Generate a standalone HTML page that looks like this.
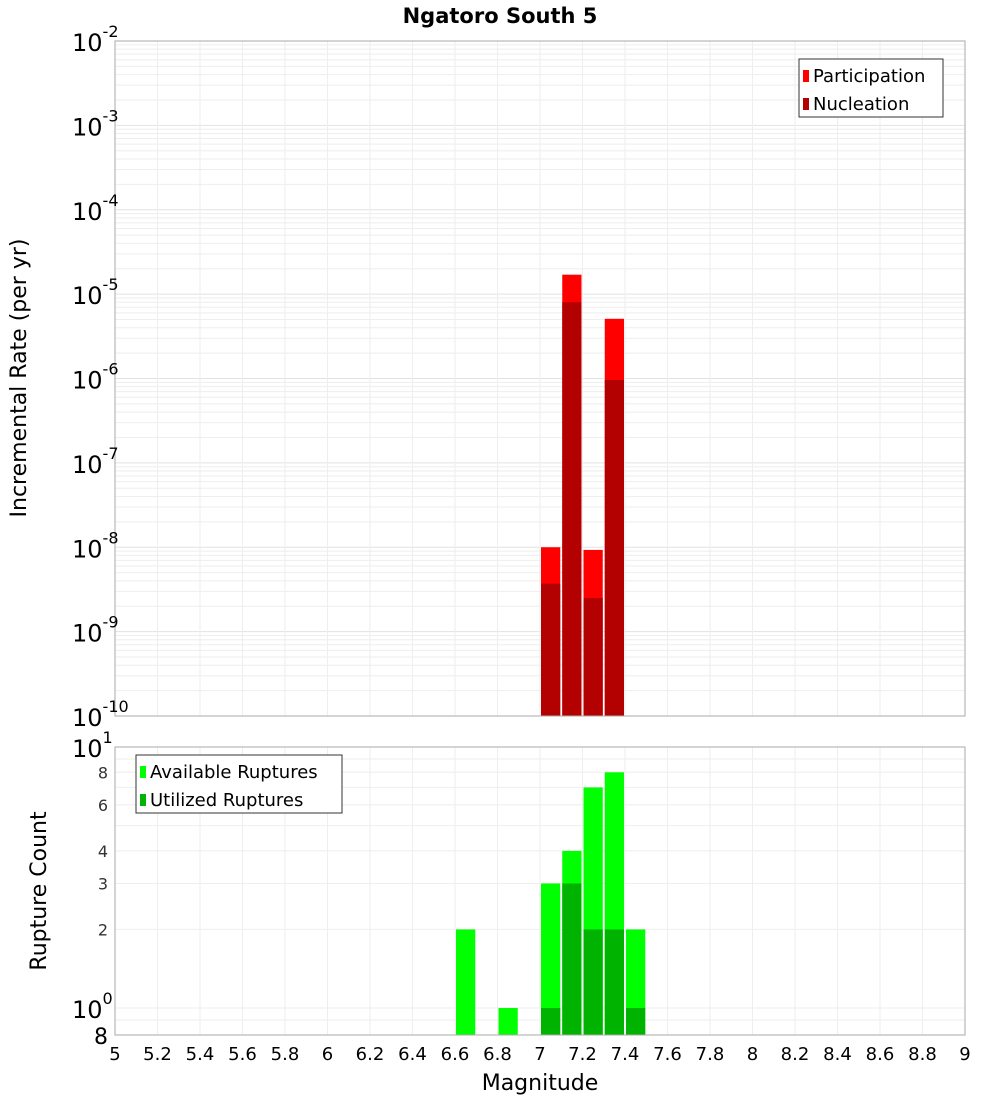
<!DOCTYPE html>
<html><head><meta charset="utf-8"><style>
body{margin:0;background:#fff;font-family:"Liberation Sans","DejaVu Sans",sans-serif}
svg text{font-family:"DejaVu Sans","Liberation Sans",sans-serif}
</style></head><body>
<svg id="c" width="1000" height="1100" xmlns="http://www.w3.org/2000/svg">
<text x="500" y="23" text-anchor="middle" font-size="21" font-weight="bold">Ngatoro South 5</text>
<g id="topg"></g><g id="botg"></g>
</svg>
<script>
const topMags=[7.05,7.15,7.25,7.35];
const participation=[1.0e-8,1.7e-5,9.3e-9,5.1e-6];
const nucleation=[3.7e-9,8.0e-6,2.5e-9,9.6e-7];
const botMags=[6.65,6.85,7.05,7.15,7.25,7.35,7.45];
const available=[2,1,3,4,7,8,2];
const utilized=[0,0,1,3,2,2,1];
const xTicks=[5,5.2,5.4,5.6,5.8,6,6.2,6.4,6.6,6.8,7,7.2,7.4,7.6,7.8,8,8.2,8.4,8.6,8.8,9];
const topExp=[-2,-3,-4,-5,-6,-7,-8,-9,-10];
const botTicks=[8,6,4,3,2];

const NS="http://www.w3.org/2000/svg";
function el(p,t,a){const e=document.createElementNS(NS,t);for(const k in a)e.setAttribute(k,a[k]);p.appendChild(e);return e;}
const L=115,R=965;
const xs=m=>L+(m-5)/4*(R-L);
const T0=41,T1=716; const yT=v=>T0+(-2-Math.log10(v))/8*(T1-T0);
const B0=747,B1=1035; const D=261; const yB=v=>B0+(1-Math.log10(v))*D;
const topG=document.getElementById('topg'),botG=document.getElementById('botg');

for(let e=-10;e<-2;e++)for(let k=1;k<10;k++){const y=yT(k*Math.pow(10,e));const g=el(topG,'line',{x1:L,x2:R,y1:y,y2:y,stroke:k==1?'#e2e2e2':'#eeeeee','stroke-width':1});
}
xTicks.forEach(t=>{const x=xs(t);const g=el(topG,'line',{x1:x,x2:x,y1:T0,y2:T1,stroke:'#eeeeee'});
const g2=el(botG,'line',{x1:x,x2:x,y1:B0,y2:B1,stroke:'#eeeeee'});});
for(let v=1;v<=10;v++){const y=yB(v);const g=el(botG,'line',{x1:L,x2:R,y1:y,y2:y,stroke:'#eeeeee'});}
{const y=yB(0.9);const g=el(botG,'line',{x1:L,x2:R,y1:y,y2:y,stroke:'#eeeeee'});}

const bw=(xs(0.1)-xs(0))-2;
topMags.forEach((m,i)=>{const x=xs(m)-bw/2;
let r=el(topG,'rect',{x:x,y:yT(participation[i]),width:bw,height:T1-yT(participation[i]),fill:'#ff0000'});
r=el(topG,'rect',{x:x,y:yT(nucleation[i]),width:bw,height:T1-yT(nucleation[i]),fill:'#b30000'});});
botMags.forEach((m,i)=>{const x=xs(m)-bw/2;
let r=el(botG,'rect',{x:x,y:yB(available[i]),width:bw,height:B1-yB(available[i]),fill:'#00ff00'});
if(utilized[i]>0){r=el(botG,'rect',{x:x,y:yB(utilized[i]),width:bw,height:B1-yB(utilized[i]),fill:'#00b300'});}});

let f=el(topG,'rect',{x:L,y:T0,width:R-L,height:T1-T0,fill:'none',stroke:'#aaaaaa'});
f=el(botG,'rect',{x:L,y:B0,width:R-L,height:B1-B0,fill:'none',stroke:'#aaaaaa'});

topExp.forEach(e=>{const y=yT(Math.pow(10,e));const t=el(topG,'text',{x:72,y:y+10,'font-size':24});
t.textContent='10';const s=el(t,'tspan',{dy:-14,'font-size':16});s.textContent=String(e);});
[[10,'1'],[1,'0']].forEach(([v,e])=>{const y=yB(v);const t=el(botG,'text',{x:72,y:y+10,'font-size':24});
t.textContent='10';const s=el(t,'tspan',{dy:-14,'font-size':16});s.textContent=e;});
botTicks.forEach(v=>{const t=el(botG,'text',{x:108,y:yB(v)+6,'font-size':16,'text-anchor':'end',fill:'#333'});t.textContent=String(v);});
{const t=el(botG,'text',{x:108,y:1044,'font-size':22,'text-anchor':'end'});t.textContent='8';}
xTicks.forEach(v=>{const t=el(botG,'text',{x:xs(v),y:1060,'font-size':18,'text-anchor':'middle'});t.textContent=String(v);});

let tt=el(botG,'text',{x:540,y:1090,'font-size':22,'text-anchor':'middle'});tt.textContent='Magnitude';
tt=el(topG,'text',{x:0,y:0,'font-size':22,'text-anchor':'middle',transform:'translate(26,378) rotate(-90)'});tt.textContent='Incremental Rate (per yr)';
tt=el(botG,'text',{x:0,y:0,'font-size':22,'text-anchor':'middle',transform:'translate(46,891) rotate(-90)'});tt.textContent='Rupture Count';

function legend(p,x,y,w,items,name){const g=el(p,'g',{});
el(g,'rect',{x:x,y:y,width:w,height:58,fill:'#fff',stroke:'#333'});
items.forEach((it,i)=>{const r=el(g,'rect',{x:x+4,y:y+11+i*28,width:6,height:12,fill:it[1]});
const tx=el(g,'text',{x:x+14,y:y+23+i*28,'font-size':18});tx.textContent=it[0];});}
legend(topG,799,59,144,[['Participation','#ff0000'],['Nucleation','#b30000']],'top-legend');
legend(botG,136,755,206,[['Available Ruptures','#00ff00'],['Utilized Ruptures','#00b300']],'bottom-legend');
</script>
</body></html>
